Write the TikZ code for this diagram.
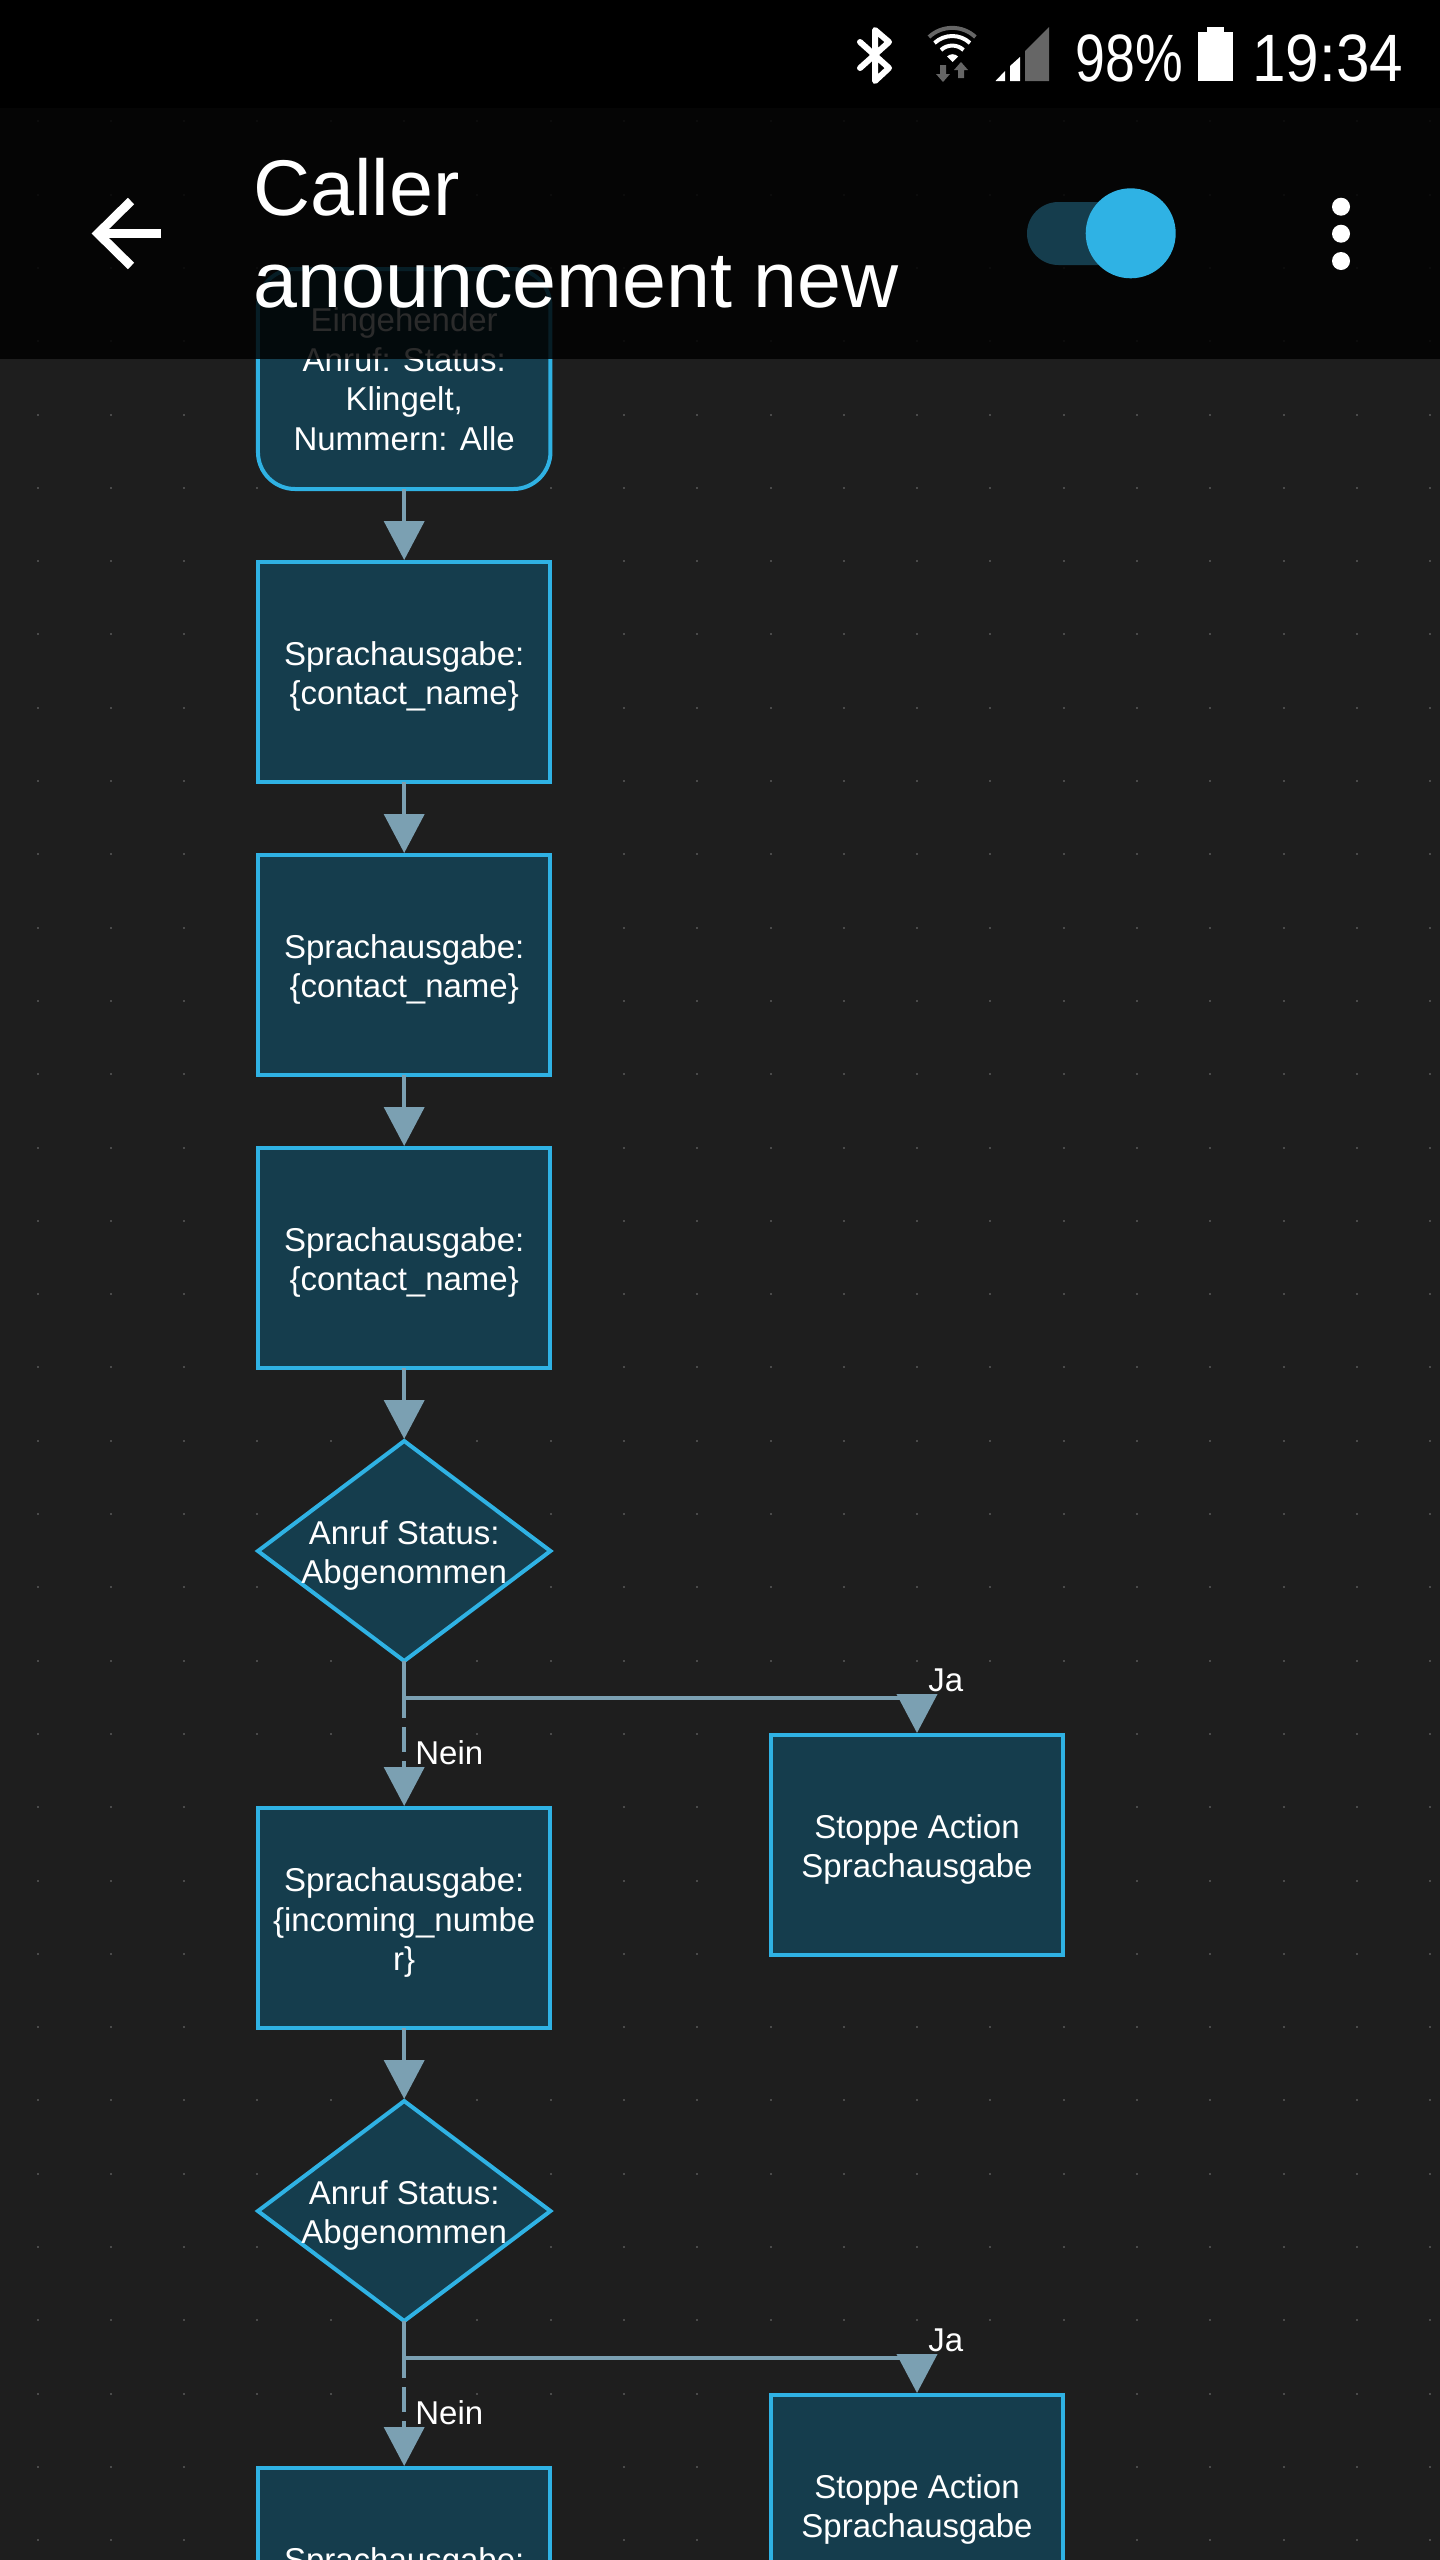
\documentclass[tikz,border=0pt]{standalone}
\usepackage{fontspec}
\setmainfont{Liberation Sans}
\newfontfamily\condfont[FakeStretch=0.80]{Liberation Sans}
\newfontfamily\clockfont[FakeStretch=0.90]{Liberation Sans}
\newfontfamily\bodyfont{Liberation Sans}
\usetikzlibrary{arrows.meta,shapes.geometric}
\definecolor{pagebg}{HTML}{1E1E1E}
\definecolor{nodefill}{HTML}{153D4D}
\definecolor{nodeline}{HTML}{2FB2E4}
\definecolor{linkcol}{HTML}{7BA0B2}
\definecolor{griddot}{HTML}{4A4A4A}
\definecolor{icongrey}{HTML}{666666}
\newcommand\toppad{\rule{0pt}{16.5pt}}
\tikzset{
  actbox/.style={draw=nodeline,fill=nodefill,line width=2pt,minimum width=146.25pt,minimum height=110pt,inner sep=0pt,outer sep=0pt,text=white,align=center,font=\bodyfont\fontsize{16.5pt}{19.8pt}\selectfont},
  trigbox/.style={actbox,rounded corners=18.5pt},
  decision/.style={diamond,aspect=1.33,draw=nodeline,fill=nodefill,line width=2pt,minimum width=146.25pt,minimum height=110pt,inner sep=0pt,outer sep=0pt},
  dtext/.style={text=white,align=center,inner sep=0pt,font=\bodyfont\fontsize{16.5pt}{19.8pt}\selectfont},
  link/.style={draw=linkcol,line width=2pt,shorten >=1pt,-{Triangle[length=19.5pt,width=20pt,color=linkcol]}},
  branchline/.style={draw=linkcol,line width=2pt},
  noway/.style={link,dash pattern=on 28.5pt off 4.5pt on 12.5pt off 4.5pt on 30pt},
  edgetext/.style={text=white,inner sep=0pt,anchor=base west,font=\bodyfont\fontsize{16.5pt}{19pt}\selectfont},
  titletext/.style={text=white,inner sep=0pt,anchor=base west,font=\fontsize{39.5pt}{46pt}\selectfont},
  statustext/.style={text=white,inner sep=0pt,anchor=base west,font=\condfont\fontsize{33.5pt}{40pt}\selectfont},
  clocktext/.style={text=white,inner sep=0pt,anchor=base west,font=\clockfont\fontsize{33.5pt}{40pt}\selectfont},
}
\begin{document}
\begin{tikzpicture}[x=0.5pt,y=-0.5pt]
\useasboundingbox (0,0) rectangle (1440,2560);
\clip (0,0) rectangle (1440,2560);
\fill[pagebg] (0,0) rectangle (1440,2560);
% grid dots
\foreach \i in {0,...,19}{\foreach \j in {0,...,34}{
  \fill[griddot] ({37.5+73.3*\i-1},{48+73.3*\j-1}) rectangle ++(2,2);
}}
% nodes
\node[trigbox] (t0) at (404.2,379) {Eingehender\\Anruf: Status:\\Klingelt,\\Nummern: Alle};
\node[actbox] (a1) at (404.2,672) {\toppad Sprachausgabe:\\\{contact\_name\}};
\node[actbox] (a2) at (404.2,965) {\toppad Sprachausgabe:\\\{contact\_name\}};
\node[actbox] (a3) at (404.2,1258) {\toppad Sprachausgabe:\\\{contact\_name\}};
\node[decision,label={[dtext]center:\toppad Anruf Status:\\Abgenommen}] (d1) at (404.2,1551) {};
\node[actbox] (a4) at (404.2,1918) {\toppad Sprachausgabe:\\\{incoming\_numbe\\r\}};
\node[actbox] (r1) at (917,1845) {\toppad Stoppe Action\\Sprachausgabe};
\node[decision,label={[dtext]center:\toppad Anruf Status:\\Abgenommen}] (d2) at (404.2,2211) {};
\node[actbox] (a5) at (404.2,2578) {\toppad Sprachausgabe:\\\{contact\_name\}};
\node[actbox] (r2) at (917,2505) {\toppad Stoppe Action\\Sprachausgabe};
% connectors
\draw[link] (t0) -- (a1);
\draw[link] (a1) -- (a2);
\draw[link] (a2) -- (a3);
\draw[link] (a3) -- (d1);
\draw[link] (a4) -- (d2);
\coordinate (j1) at (404.2,1698);
\coordinate (j2) at (404.2,2358);
\draw[noway] (d1.south) -- (a4.north);
\draw[noway] (d2.south) -- (a5.north);
\draw[branchline] (j1) -- (j1 -| r1.north);
\draw[link] (j1 -| r1.north) -- (r1.north);
\draw[branchline] (j2) -- (j2 -| r2.north);
\draw[link] (j2 -| r2.north) -- (r2.north);
\node[edgetext] (ja1) at (928,1691) {Ja};
\node[edgetext] (ne1) at (415,1764) {Nein};
\node[edgetext] (ja2) at (928,2351) {Ja};
\node[edgetext] (ne2) at (415,2424) {Nein};
% toolbar
\fill[black,opacity=0.83] (0,108) rectangle (1440,359);
\fill[black] (0,0) rectangle (1440,108);
\node[titletext] (title1) at (253,215) {Caller};
\node[titletext] (title2) at (253,307) {anouncement new};
\draw[white,line width=4.5pt] (161,233.5) -- (98,233.5);
\draw[white,line width=4.5pt,miter limit=10] (131,201) -- (98,233.5) -- (131,266);
\fill[nodefill,rounded corners=15.7pt] (1027,202) rectangle (1135,265);
\fill[nodeline] (1130.7,233.3) circle (45);
\fill[white] (1341,206.7) circle (9);
\fill[white] (1341,233.7) circle (9);
\fill[white] (1341,261) circle (9);
% status bar
\draw[white,line width=3pt,line join=round,line cap=round] (860,42) -- (889,68) -- (875,81) -- (875,30) -- (889,42) -- (860,68);
\draw[icongrey,line width=2pt] (929,37) arc[start angle=-133,end angle=-47,radius=34];
\draw[white,line width=2pt] (934.5,43) arc[start angle=-133,end angle=-47,radius=26];
\draw[white,line width=2pt] (941,50) arc[start angle=-133,end angle=-47,radius=16.5];
\fill[white] (952.5,62) -- (947,56.5) arc[start angle=-135,end angle=-45,radius=7.8] -- cycle;
\fill[icongrey] (940,65) rectangle (946,74) (936,74) -- (950,74) -- (943,82) -- cycle;
\fill[icongrey] (958,70) rectangle (964,78) (954,70) -- (968,70) -- (961,62) -- cycle;
\fill[white] (995.5,81) -- (1005,81) -- (1005,71) -- cycle;
\fill[white] (1010,81) -- (1010,66) -- (1020,57) -- (1020,81) -- cycle;
\fill[icongrey] (1025,81) -- (1025,51) -- (1049,27) -- (1049,81) -- cycle;
\node[statustext] (batt) at (1075,81) {98\%};
\fill[white] (1198,32) rectangle (1233,81);
\fill[white] (1207,27) rectangle (1224,33);
\node[clocktext] (clock) at (1252,81) {19:34};
\end{tikzpicture}
\end{document}
